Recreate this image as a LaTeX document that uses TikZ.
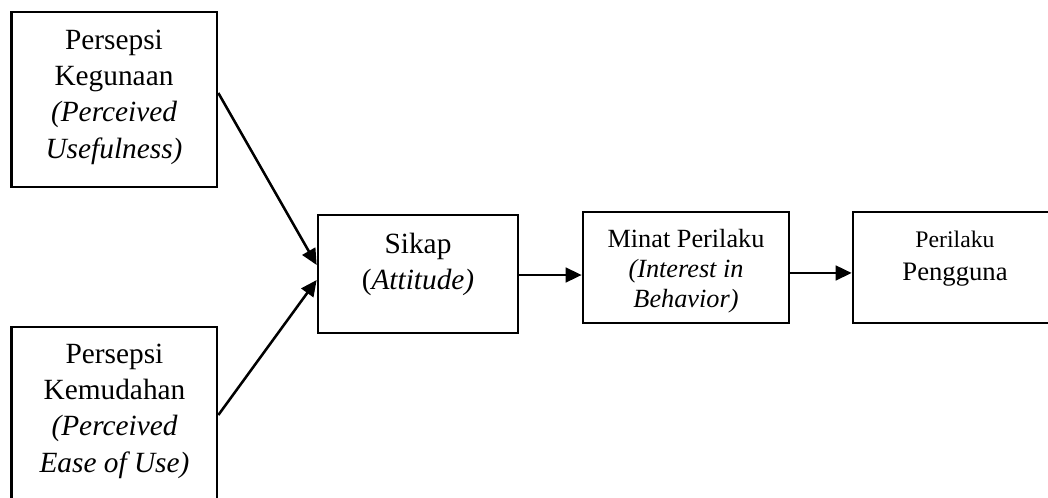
\documentclass[tikz,border=0pt]{standalone}
\usepackage{fontspec}
\setmainfont{Liberation Serif}
\usetikzlibrary{arrows.meta}
\begin{document}
\begin{tikzpicture}[x=0.75pt,y=-0.75pt,
  box/.style={draw=black,line width=2pt,rectangle,inner sep=0pt},
  txt/.style={align=center,inner sep=0pt},
  big/.style={font=\fontsize{22}{27.2}\selectfont},
  conn/.style={line width=1.9pt,-{Triangle[length=12pt,width=11pt]}}]
\useasboundingbox (0,0) rectangle (1048,497);
% boxes
\node[box,minimum width=154.1pt,minimum height=131.25pt] (b1) at (114.25,99.5) {};
\node[box,minimum width=154.1pt,minimum height=131.25pt] (b2) at (114.25,414.5) {};
\node[box,minimum width=150pt,minimum height=88.5pt] (sk) at (418,274) {};
\node[box,minimum width=154.5pt,minimum height=83.25pt] (mp) at (686,267.5) {};
\node[box,minimum width=154.5pt,minimum height=83.25pt] (pp) at (956,267.5) {};
% texts
\node[txt,big] (t1) at (114,97.2) {Persepsi\\Kegunaan\\{\itshape (Perceived}\\{\itshape Usefulness)}};
\node[txt,big] (t2) at (114.5,411.2) {Persepsi\\Kemudahan\\{\itshape (Perceived}\\{\itshape Ease of Use)}};
\node[txt,big] (ts) at (418,264.7) {Sikap\\({\itshape Attitude)}};
\node[txt,font=\fontsize{19.7}{22.5}\selectfont] (tm) at (686,270.9) {Minat Perilaku\\{\itshape (Interest in}\\{\itshape Behavior)}};
\node[txt,font=\fontsize{17.8}{24.75}\selectfont] (tp) at (955,258.3) {Perilaku\\{\fontsize{20}{24.75}\selectfont Pengguna}};
% connectors
\draw[conn] ([yshift=4.9pt]b1.east) -- ([yshift=6.75pt]sk.west);
\draw[conn] ([yshift=-0.4pt]b2.east) -- ([yshift=-4.5pt]sk.west);
\draw[conn] ([yshift=-0.75pt]sk.east) -- ([yshift=-0.75pt]sk.east -| mp.west);
\draw[conn] ([yshift=-4.1pt]mp.east) -- ([yshift=-4.1pt]pp.west);
\end{tikzpicture}
\end{document}
